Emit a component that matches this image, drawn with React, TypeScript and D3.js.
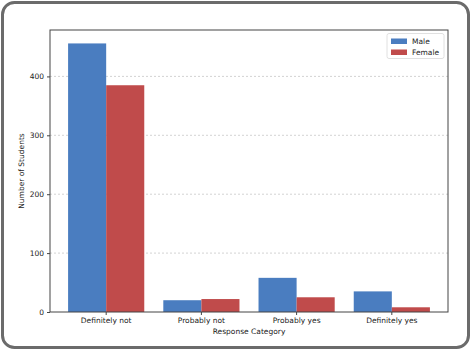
import { useEffect, useRef } from "react";
import * as d3 from "d3";

const categories = ["Definitely not", "Probably not", "Probably yes", "Definitely yes"];
const groups = ["Male", "Female"];
const maleCounts = [456, 20, 58, 35];
const femaleCounts = [385, 22, 25, 8];
const yTicks = [0, 100, 200, 300, 400];
const colors = ["#4a7dc0", "#c04b4b"];

export default function App() {
  const svgRef = useRef<SVGSVGElement>(null);

  useEffect(() => {
    const width = 472;
    const height = 350;
    const margin = { top: 30, right: 24, bottom: 38, left: 50 };

    const svg = d3.select(svgRef.current);
    svg.selectAll("*").remove();
    svg.attr("width", width).attr("height", height).style("display", "block");

    const font = "DejaVu Sans, sans-serif";

    // outer frame
    svg
      .append("rect")
      .attr("x", 2.5)
      .attr("y", 2.5)
      .attr("width", width - 6)
      .attr("height", height - 5)
      .attr("rx", 12)
      .attr("fill", "#fff")
      .attr("stroke", "#6b6b6b")
      .attr("stroke-width", 3);

    const plotW = width - margin.left - margin.right;
    const plotH = height - margin.top - margin.bottom;

    const x = d3
      .scaleBand()
      .domain(categories)
      .range([margin.left, margin.left + plotW])
      .paddingInner(0.2)
      .paddingOuter(0.19);

    const xSub = d3.scaleBand().domain(groups).range([0, x.bandwidth()]);

    const maxVal = d3.max([...maleCounts, ...femaleCounts]) as number;
    const y = d3
      .scaleLinear()
      .domain([0, maxVal * 1.05])
      .range([margin.top + plotH, margin.top]);

    // grid
    svg
      .append("g")
      .selectAll("line")
      .data(yTicks.filter(t => t > 0))
      .enter()
      .append("line")
      .attr("x1", margin.left)
      .attr("x2", margin.left + plotW)
      .attr("y1", d => y(d))
      .attr("y2", d => y(d))
      .attr("stroke", "#c8c8c8")
      .attr("stroke-width", 0.8)
      .attr("stroke-dasharray", "2,2");

    // bars
    const series = [maleCounts, femaleCounts];
    series.forEach((vals, gi) => {
      svg
        .append("g")
        .selectAll("rect")
        .data(vals)
        .enter()
        .append("rect")
        .attr("x", (d, i) => (x(categories[i]) as number) + (xSub(groups[gi]) as number))
        .attr("y", d => y(d))
        .attr("width", xSub.bandwidth())
        .attr("height", d => y(0) - y(d))
        .attr("fill", colors[gi]);
    });

    // spines
    svg
      .append("rect")
      .attr("x", margin.left)
      .attr("y", margin.top)
      .attr("width", plotW)
      .attr("height", plotH)
      .attr("fill", "none")
      .attr("stroke", "#444")
      .attr("stroke-width", 1);

    // y axis
    const yAxis = svg
      .append("g")
      .attr("transform", `translate(${margin.left},0)`)
      .call(d3.axisLeft(y).tickValues(yTicks).tickSize(3).tickPadding(3));
    yAxis.select(".domain").remove();
    yAxis.selectAll("line").attr("stroke", "#444");
    yAxis.selectAll("text").attr("font-family", font).attr("font-size", "7.5px").attr("fill", "#222");

    // x axis
    const xAxis = svg
      .append("g")
      .attr("transform", `translate(0,${margin.top + plotH})`)
      .call(d3.axisBottom(x).tickSize(3).tickPadding(3));
    xAxis.select(".domain").remove();
    xAxis.selectAll("line").attr("stroke", "#444");
    xAxis.selectAll("text").attr("font-family", font).attr("font-size", "7.5px").attr("fill", "#222");

    // axis labels
    svg
      .append("text")
      .attr("x", margin.left + plotW / 2)
      .attr("y", 334)
      .attr("text-anchor", "middle")
      .attr("font-family", font)
      .attr("font-size", "7.5px")
      .attr("fill", "#222")
      .text("Response Category");

    svg
      .append("text")
      .attr("transform", "rotate(-90)")
      .attr("x", -(margin.top + plotH / 2))
      .attr("y", 24)
      .attr("text-anchor", "middle")
      .attr("font-family", font)
      .attr("font-size", "7.5px")
      .attr("fill", "#222")
      .text("Number of Students");

    // legend
    const legend = svg.append("g").attr("transform", `translate(${margin.left + plotW - 61},${margin.top + 3.5})`);
    legend
      .append("rect")
      .attr("width", 57)
      .attr("height", 25)
      .attr("rx", 2)
      .attr("fill", "#fff")
      .attr("stroke", "#d8d8d8")
      .attr("stroke-width", 0.8);
    groups.forEach((g, i) => {
      legend
        .append("rect")
        .attr("x", 4)
        .attr("y", 5 + i * 11)
        .attr("width", 16)
        .attr("height", 5.5)
        .attr("fill", colors[i]);
      legend
        .append("text")
        .attr("x", 25)
        .attr("y", 10.5 + i * 11)
        .attr("font-family", font)
        .attr("font-size", "7.5px")
        .attr("fill", "#222")
        .text(g);
    });
  }, []);

  return <svg ref={svgRef} style={{ position: "absolute", left: 0, top: 0 }}></svg>;
}
